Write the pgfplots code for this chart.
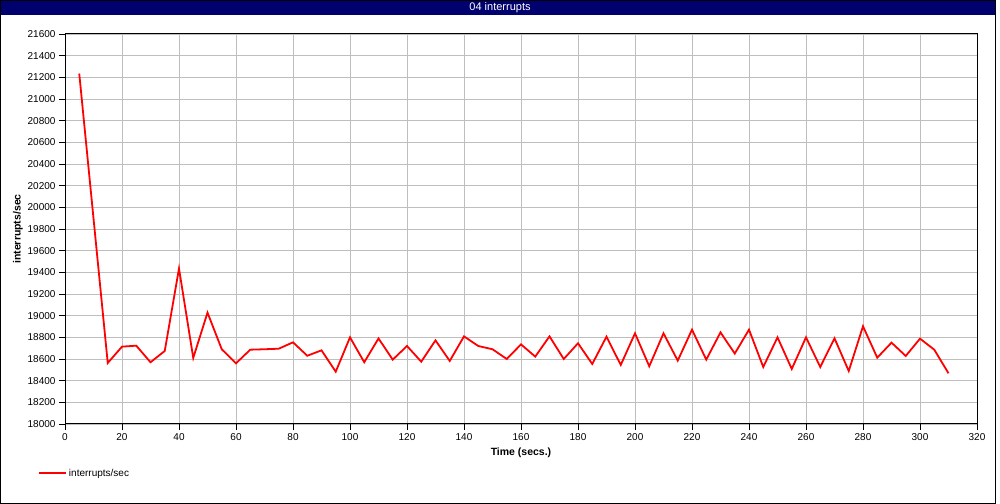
\documentclass[border=0pt]{standalone}
\usepackage{pgfplots}
\pgfplotsset{compat=1.18}
\usepackage{fontspec}
\setmainfont{Liberation Sans}
\definecolor{titlebar}{RGB}{0,0,110}
\definecolor{gridgray}{RGB}{190,190,190}

\pgfplotstableread{
t    ints
5    21235
15   18563
20   18714
25   18723
30   18570
35   18674
40   19435
45   18610
50   19028
55   18690
60   18560
65   18686
70   18690
75   18695
80   18754
85   18630
90   18680
95   18483
100  18800
105  18570
110  18790
115  18594
120  18720
125  18575
130  18772
135  18582
140  18809
145  18720
150  18690
155  18600
160  18735
165  18622
170  18809
175  18600
180  18745
185  18554
190  18806
195  18545
200  18837
205  18533
210  18837
215  18585
220  18871
225  18594
230  18846
235  18650
240  18871
245  18526
250  18800
255  18508
260  18800
265  18526
270  18791
275  18489
280  18902
285  18612
290  18751
295  18628
300  18788
305  18686
310  18468
}\interrupts

\begin{document}
\begin{tikzpicture}
\useasboundingbox (0,0) rectangle (1000bp,504bp);
\fill[white] (0,0) rectangle (1000bp,504bp);
\fill[titlebar] (0,489bp) rectangle (996bp,504bp);
\node[text=white, font=\fontsize{11bp}{13bp}\selectfont] at (500bp,496.5bp) {04 interrupts};
\draw[black, line width=1.2bp] (0.6bp,0.8bp) rectangle (995.4bp,504bp);

\begin{axis}[
    at={(65bp,80bp)}, anchor=south west,
    scale only axis, width=912bp, height=390bp,
    xmin=0, xmax=320, ymin=18000, ymax=21600,
    xtick distance=20, ytick distance=200,
    scaled y ticks=false,
    /pgf/number format/assume math mode=true,
    /pgf/number format/1000 sep={},
    tick label style={font=\fontsize{10bp}{12bp}\selectfont},
    tick align=outside, tick pos=left,
    major tick length=6bp,
    every tick/.style={black, line width=0.8bp},
    axis line style={black, line width=1bp},
    grid=major,
    major grid style={gridgray, line width=0.9bp},
    xlabel={\textbf{Time (secs.)}},
    ylabel={\textbf{interrupts/sec}},
    label style={font=\fontsize{10.5bp}{12bp}\selectfont},
    xlabel style={at={(axis description cs:0.5,-0.0744)}, anchor=center},
    ylabel style={at={(axis description cs:-0.0515,0.5)}, anchor=center},
    legend style={at={(axis description cs:-0.0296,-0.126)}, anchor=west,
        draw=none, fill=none, inner sep=0pt,
        font=\fontsize{10bp}{12bp}\selectfont},
    legend cell align=left,
    legend image code/.code={\draw[#1] (0bp,0bp) -- (27bp,0bp);},
]
\addplot[red, line width=1.8bp, line join=miter] table[x=t, y=ints] {\interrupts};
\addlegendentry{interrupts/sec}
\end{axis}
\end{tikzpicture}
\end{document}
